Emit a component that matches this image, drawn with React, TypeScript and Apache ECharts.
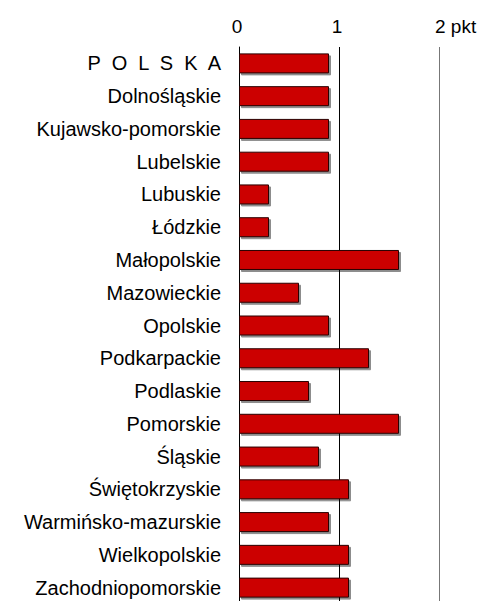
import React, { useEffect, useRef } from "react";
import * as echarts from "echarts";

const categories = [
  "P  O  L  S  K  A",
  "Dolnośląskie",
  "Kujawsko-pomorskie",
  "Lubelskie",
  "Lubuskie",
  "Łódzkie",
  "Małopolskie",
  "Mazowieckie",
  "Opolskie",
  "Podkarpackie",
  "Podlaskie",
  "Pomorskie",
  "Śląskie",
  "Świętokrzyskie",
  "Warmińsko-mazurskie",
  "Wielkopolskie",
  "Zachodniopomorskie",
];

const values = [0.9, 0.9, 0.9, 0.9, 0.3, 0.3, 1.6, 0.6, 0.9, 1.3, 0.7, 1.6, 0.8, 1.1, 0.9, 1.1, 1.1];

const xTickLabels: Record<number, string> = { 0: "0", 1: "1", 2: "2 pkt" };

export default function App() {
  const ref = useRef<HTMLDivElement>(null);
  useEffect(() => {
    if (!ref.current) return;
    const chart = echarts.init(ref.current, undefined, { renderer: "svg" });
    chart.setOption({
      animation: false,
      backgroundColor: "#ffffff",
      textStyle: { fontFamily: "Liberation Sans, Arial, sans-serif" },
      grid: {
        left: 239,
        width: 200,
        top: 47,
        height: 557,
        containLabel: false,
        outerBoundsMode: "none",
      },
      xAxis: {
        type: "value",
        position: "top",
        min: 0,
        max: 2,
        interval: 1,
        axisLine: { show: false },
        axisTick: { show: false },
        axisLabel: {
          color: "#000",
          fontSize: 19,
          margin: 11,
          alignMaxLabel: "left",
          padding: [0, 0, 0, -4],
          formatter: (v: number) => xTickLabels[v] ?? String(v),
        },
        splitLine: {
          show: true,
          lineStyle: { color: ["#000000", "#000000", "#777777"], width: 1 },
        },
      },
      yAxis: {
        type: "category",
        data: categories,
        inverse: true,
        axisLine: { show: true, lineStyle: { color: "#000", width: 1 } },
        axisTick: { show: false },
        axisLabel: { color: "#000", fontSize: 20, margin: 18 },
        splitLine: { show: false },
      },
      series: [
        {
          type: "bar",
          data: values,
          barWidth: 20,
          itemStyle: {
            color: "#cc0000",
            borderColor: "#2a0000",
            borderWidth: 1,
            shadowColor: "rgba(0,0,0,0.45)",
            shadowOffsetX: 2,
            shadowOffsetY: 2,
            shadowBlur: 0,
          },
        },
      ],
    });
    return () => chart.dispose();
  }, []);
  return (
    <div
      ref={ref}
      style={{ position: "fixed", left: 0, top: 0, width: 485, height: 601 }}
    />
  );
}
